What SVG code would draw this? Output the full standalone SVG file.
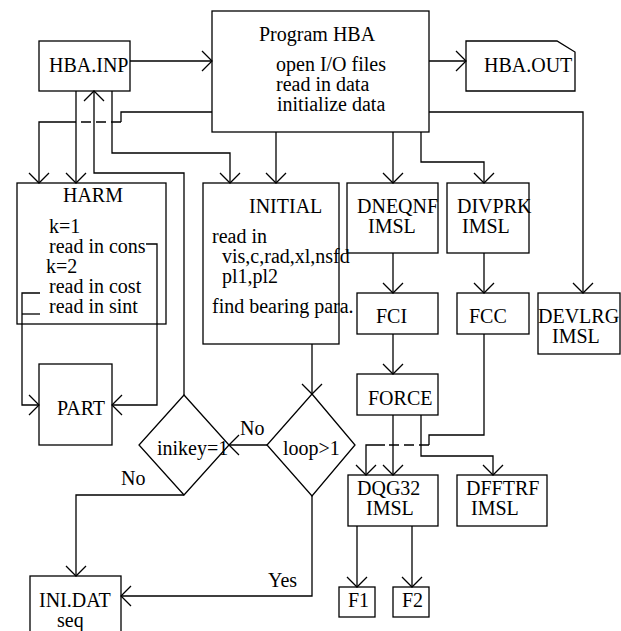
<svg xmlns="http://www.w3.org/2000/svg" width="621" height="631" viewBox="0 0 621 631">
<style>
.n{fill:none;stroke:#000;stroke-width:1.3}
.c{fill:none;stroke:#000;stroke-width:1.3}
.d{stroke-dasharray:10,5}
text{font-family:"Liberation Serif","Times New Roman",serif;font-size:20px;fill:#000}
</style>
<defs>
<marker id="a" markerUnits="userSpaceOnUse" viewBox="0 0 12 22" refX="11" refY="11" markerWidth="12" markerHeight="22" orient="auto">
<path d="M1,1 L11,11 L1,21" fill="none" stroke="#000" stroke-width="1.3"/>
</marker>
</defs>
<rect width="621" height="631" fill="#fff"/>
<g id="connectors">
<path class="c" d="M130,61 H212" marker-end="url(#a)"/>
<path class="c" d="M429,61 H466" marker-end="url(#a)"/>
<path class="c" d="M429,112 H583 V293" marker-end="url(#a)"/>
<path class="c" d="M421,132 V162 H484 V183" marker-end="url(#a)"/>
<path class="c" d="M393,132 V183" marker-end="url(#a)"/>
<path class="c" d="M276,132 V183" marker-end="url(#a)"/>
<path class="c" d="M112,91 V153 H230 V183" marker-end="url(#a)"/>
<path class="c" d="M76,91 V183" marker-end="url(#a)"/>
<path class="c" d="M212,112 H121 V122"/>
<path class="c d" d="M121,122 H67"/>
<path class="c" d="M67,122 H39 V183" marker-end="url(#a)"/>
<path class="c" d="M184,395 V173 H94 V91" marker-end="url(#a)"/>
<path class="c" d="M393,253 V293" marker-end="url(#a)"/>
<path class="c" d="M484,253 V293" marker-end="url(#a)"/>
<path class="c" d="M393,334 V374" marker-end="url(#a)"/>
<path class="c" d="M393,415 V475" marker-end="url(#a)"/>
<path class="c" d="M421,415 V456 H493 V475" marker-end="url(#a)"/>
<path class="c" d="M484,334 V435 H429 V445"/>
<path class="c d" d="M429,445 H385"/>
<path class="c" d="M385,445 H366 V475" marker-end="url(#a)"/>
<path class="c" d="M357,526 V587" marker-end="url(#a)"/>
<path class="c" d="M412,526 V587" marker-end="url(#a)"/>
<path class="c" d="M312,344 V394" marker-end="url(#a)"/>
<path class="c" d="M267,445 H229" marker-end="url(#a)"/>
<text x="240" y="435">No</text>
<path class="c" d="M184,495 H76 V576" marker-end="url(#a)"/>
<text x="121" y="485">No</text>
<path class="c" d="M312,496 V596 H121" marker-end="url(#a)"/>
<text x="268" y="587">Yes</text>
<path class="c" d="M40,293 H22 V405 H39" marker-end="url(#a)"/>
<path class="c" d="M40,314 H22"/>
<path class="c" d="M146,244 H157 V405 H112" marker-end="url(#a)"/>
</g>
<g id="hba_inp"><rect class="n" x="39" y="41" width="91" height="50"/><text x="49" y="72">HBA.INP</text></g>
<g id="program_hba"><rect class="n" x="212" y="11" width="217" height="121"/>
<text x="259" y="41">Program HBA</text>
<text x="276" y="71">open I/O files</text>
<text x="276" y="91">read in data</text>
<text x="277" y="111">initialize data</text></g>
<g id="hba_out"><path class="n" d="M466,41 H557 L575,52 V91 H466 Z"/><text x="484" y="72">HBA.OUT</text></g>
<g id="harm"><rect class="n" x="17" y="183" width="149" height="141"/>
<text x="93" y="202" text-anchor="middle">HARM</text>
<text x="49" y="233">k=1</text>
<text x="49" y="253">read in cons</text>
<text x="46" y="273">k=2</text>
<text x="49" y="293">read in cost</text>
<text x="49" y="313">read in sint</text></g>
<g id="initial"><rect class="n" x="203" y="183" width="136" height="161"/>
<text x="249" y="213">INITIAL</text>
<text x="212" y="243">read in</text>
<text x="222" y="263">vis,c,rad,xl,nsfd</text>
<text x="222" y="283">pl1,pl2</text>
<text x="212" y="313">find bearing para.</text></g>
<g id="dneqnf"><rect class="n" x="347" y="183" width="91" height="70"/><text x="357" y="213">DNEQNF</text><text x="368" y="233">IMSL</text></g>
<g id="divprk"><rect class="n" x="447" y="183" width="82" height="70"/><text x="457" y="213">DIVPRK</text><text x="462" y="233">IMSL</text></g>
<g id="devlrg"><rect class="n" x="538" y="293" width="82" height="61"/><text x="538" y="323">DEVLRG</text><text x="552" y="343">IMSL</text></g>
<g id="fci"><rect class="n" x="357" y="293" width="81" height="41"/><text x="376" y="323">FCI</text></g>
<g id="fcc"><rect class="n" x="457" y="293" width="72" height="41"/><text x="469" y="323">FCC</text></g>
<g id="force"><rect class="n" x="357" y="374" width="81" height="41"/><text x="368" y="405">FORCE</text></g>
<g id="dqg32"><rect class="n" x="348" y="475" width="90" height="51"/><text x="357" y="495">DQG32</text><text x="366" y="515">IMSL</text></g>
<g id="dfftrf"><rect class="n" x="457" y="475" width="90" height="51"/><text x="466" y="495">DFFTRF</text><text x="471" y="515">IMSL</text></g>
<g id="f1"><rect class="n" x="339" y="587" width="36" height="30"/><text x="348" y="607">F1</text></g>
<g id="f2"><rect class="n" x="393" y="587" width="36" height="30"/><text x="402" y="607">F2</text></g>
<g id="part"><rect class="n" x="39" y="364" width="73" height="81"/><text x="57" y="415">PART</text></g>
<g id="inikey"><path class="n" d="M184,395 L229,445 L184,495 L139,445 Z"/><text x="157" y="455">inikey=1</text></g>
<g id="loop"><path class="n" d="M312,394 L355,445 L312,496 L267,445 Z"/><text x="283" y="455">loop&gt;1</text></g>
<g id="ini_dat"><rect class="n" x="30" y="576" width="91" height="60"/><text x="39" y="607">INI.DAT</text><text x="57" y="627">seq</text></g>
</svg>
